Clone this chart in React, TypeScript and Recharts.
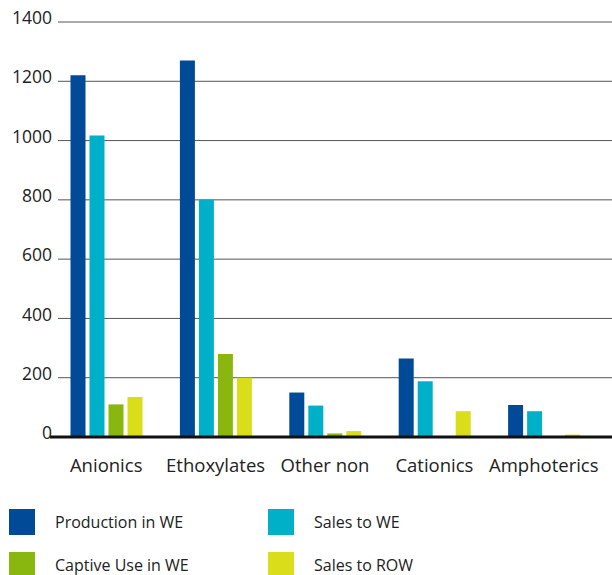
import React from "react";
import { BarChart, Bar, XAxis, YAxis, CartesianGrid, ReferenceLine } from "recharts";

const categories = ["Anionics", "Ethoxylates", "Other non", "Cationics", "Amphoterics"];
const productionInWE = [1220, 1270, 150, 265, 108];
const salesToWE = [1017, 800, 106, 188, 87];
const captiveUseInWE = [110, 280, 12, 0, 0];
const salesToROW = [135, 200, 20, 87, 8];
const yTicks = [0, 200, 400, 600, 800, 1000, 1200, 1400];

const series = [
  { key: "production", name: "Production in WE", values: productionInWE, color: "#004a98" },
  { key: "salesWE", name: "Sales to WE", values: salesToWE, color: "#00b0c8" },
  { key: "captive", name: "Captive Use in WE", values: captiveUseInWE, color: "#8ab70f" },
  { key: "salesROW", name: "Sales to ROW", values: salesToROW, color: "#dadd1a" },
];

const data = categories.map((name, i) => {
  const row: Record<string, any> = { name };
  series.forEach((s) => (row[s.key] = s.values[i]));
  return row;
});

const FONT = "'Open Sans', 'Noto Sans', sans-serif";

export default function App() {
  return (
    <div style={{ position: "absolute", left: 0, top: 0, width: 612, height: 575, background: "#fff", fontFamily: FONT, overflow: "hidden" }}>
      <BarChart
        width={612}
        height={480}
        data={data}
        margin={{ top: 22, right: 0, left: 0, bottom: 0 }}
        barSize={15}
        barGap={4}
      >
        <CartesianGrid vertical={false} stroke="#555" strokeWidth={1} x={58} width={554} />
        <XAxis
          dataKey="name"
          height={43}
          padding={{ left: 1.5, right: 13.5 }}
          axisLine={false}
          tickLine={false}
          interval={0}
          tick={{ fill: "#222", fontSize: 18.5, fontFamily: FONT }}
          tickMargin={16}
        />
        <YAxis
          width={50}
          domain={[0, 1400]}
          ticks={yTicks}
          interval={0}
          axisLine={false}
          tickLine={false}
          tickSize={0}
          tickMargin={-2}
          tick={{ fill: "#222", fontSize: 17.5, fontFamily: FONT, dy: -4 }}
        />
        {series.map((s) => (
          <Bar key={s.key} dataKey={s.key} name={s.name} fill={s.color} isAnimationActive={false} />
        ))}
        <ReferenceLine y={0} stroke="#111" strokeWidth={3} />
      </BarChart>
      <div style={{ position: "absolute", left: 9, top: 509, display: "grid", gridTemplateColumns: "259px 300px", rowGap: 17 }}>
        {series.map((s) => (
          <div key={s.key} style={{ display: "flex", alignItems: "center", height: 26 }}>
            <span style={{ width: 26, height: 26, background: s.color, display: "inline-block" }} />
            <span style={{ marginLeft: 20, fontSize: 16, color: "#222", lineHeight: "22px" }}>{s.name}</span>
          </div>
        ))}
      </div>
    </div>
  );
}
